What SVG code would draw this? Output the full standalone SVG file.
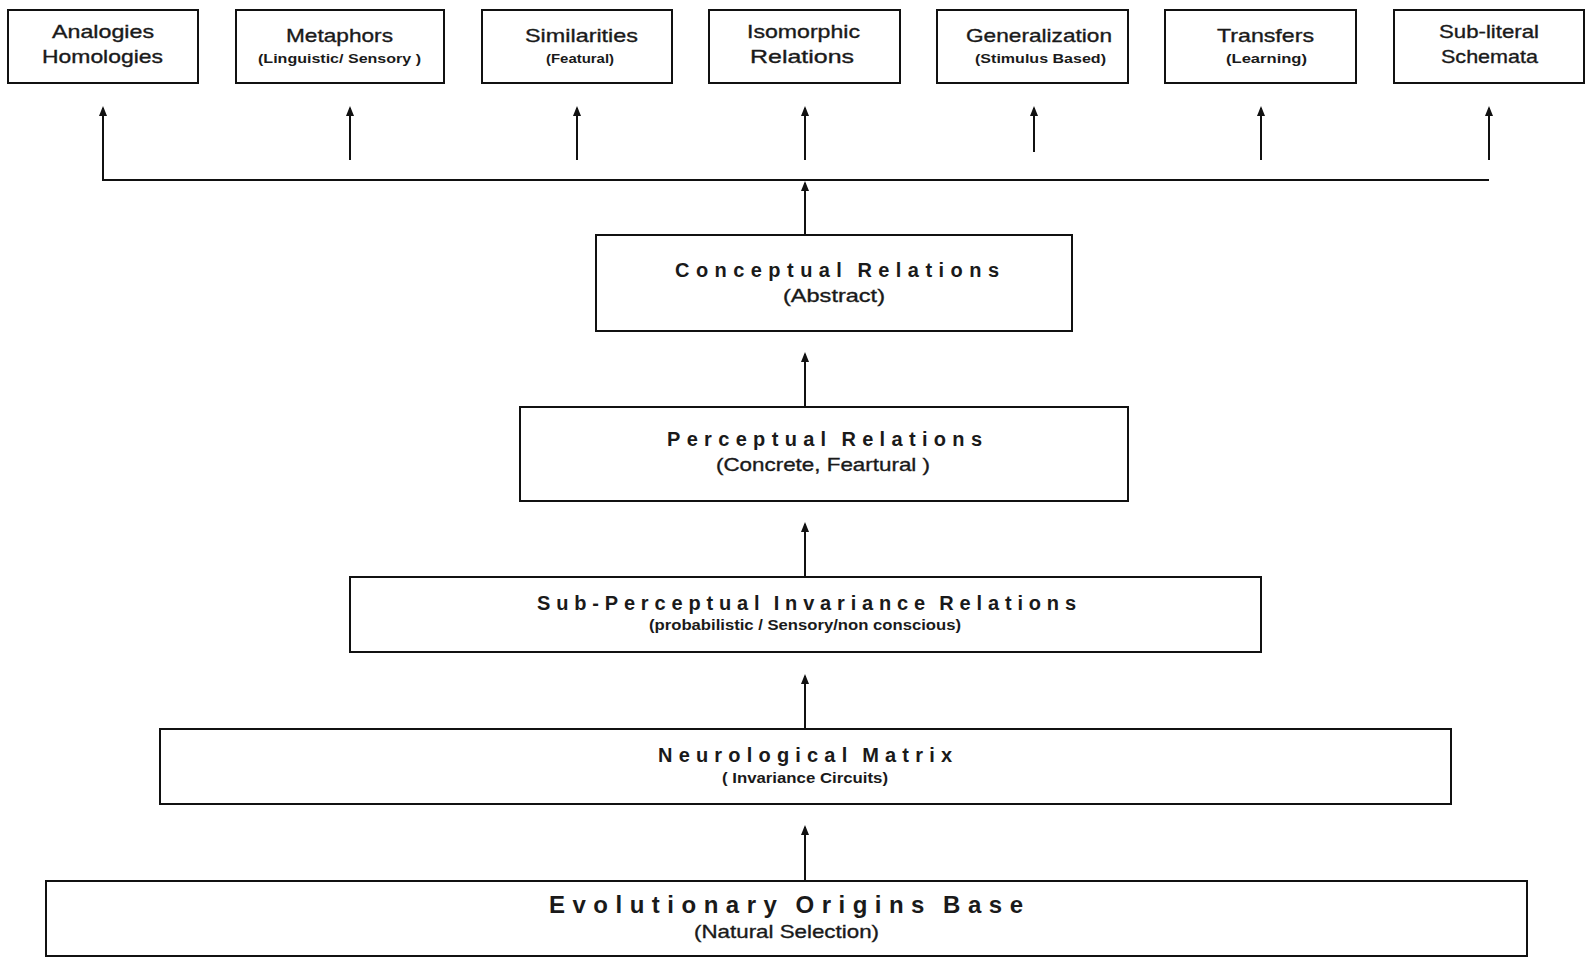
<svg xmlns="http://www.w3.org/2000/svg" width="1586" height="958" viewBox="0 0 1586 958">
<style>
.box{fill:#fff;stroke:#111;stroke-width:2}
.t{font-family:"Liberation Sans",Arial,sans-serif;fill:#1a1a1a;stroke:#1a1a1a;stroke-width:0.35}
.b{font-weight:bold;stroke-width:0}
.lbl{font-size:19px}
.sub{font-size:13px}
.ttl{font-size:20px;word-spacing:-3px}
.st{font-size:19px}
.ss{font-size:15px}
.big{font-size:24px;word-spacing:-3px}
.c{fill:none;stroke:#111;stroke-width:2}
</style>
<defs>
<marker id="ah" markerUnits="userSpaceOnUse" markerWidth="10" markerHeight="8" viewBox="0 0 10 8" refX="8" refY="4" orient="auto">
<path d="M0,0 L10,4 L0,8 Z" fill="#111"/>
</marker>
</defs>
<rect width="1586" height="958" fill="#fff"/>
<g id="connectors">
<path class="c" d="M1489,180 H103 V108" marker-end="url(#ah)"/>
<line class="c" x1="350" y1="160" x2="350" y2="108" marker-end="url(#ah)"/>
<line class="c" x1="577" y1="160" x2="577" y2="108" marker-end="url(#ah)"/>
<line class="c" x1="805" y1="160" x2="805" y2="108" marker-end="url(#ah)"/>
<line class="c" x1="1034" y1="152" x2="1034" y2="108" marker-end="url(#ah)"/>
<line class="c" x1="1261" y1="160" x2="1261" y2="108" marker-end="url(#ah)"/>
<line class="c" x1="1489" y1="160" x2="1489" y2="108" marker-end="url(#ah)"/>
<line class="c" x1="805" y1="235" x2="805" y2="183" marker-end="url(#ah)"/>
<line class="c" x1="805" y1="407" x2="805" y2="354" marker-end="url(#ah)"/>
<line class="c" x1="805" y1="577" x2="805" y2="524" marker-end="url(#ah)"/>
<line class="c" x1="805" y1="729" x2="805" y2="676" marker-end="url(#ah)"/>
<line class="c" x1="805" y1="881" x2="805" y2="827" marker-end="url(#ah)"/>
</g>
<g id="analogies">
<rect class="box" x="8" y="10" width="190" height="73"/>
<text class="t lbl" x="52" y="38" textLength="102" lengthAdjust="spacingAndGlyphs">Analogies</text>
<text class="t lbl" x="42" y="63" textLength="121" lengthAdjust="spacingAndGlyphs">Homologies</text>
</g>
<g id="metaphors">
<rect class="box" x="236" y="10" width="208" height="73"/>
<text class="t lbl" x="286" y="42" textLength="107" lengthAdjust="spacingAndGlyphs">Metaphors</text>
<text class="t b sub" x="258" y="63" textLength="163" lengthAdjust="spacingAndGlyphs">(Linguistic/ Sensory )</text>
</g>
<g id="similarities">
<rect class="box" x="482" y="10" width="190" height="73"/>
<text class="t lbl" x="525" y="42" textLength="113" lengthAdjust="spacingAndGlyphs">Similarities</text>
<text class="t b sub" x="546" y="63" textLength="68" lengthAdjust="spacingAndGlyphs">(Featural)</text>
</g>
<g id="isomorphic">
<rect class="box" x="709" y="10" width="191" height="73"/>
<text class="t lbl" x="747" y="38" textLength="113" lengthAdjust="spacingAndGlyphs">Isomorphic</text>
<text class="t lbl" x="750" y="63" textLength="104" lengthAdjust="spacingAndGlyphs">Relations</text>
</g>
<g id="generalization">
<rect class="box" x="937" y="10" width="191" height="73"/>
<text class="t lbl" x="966" y="42" textLength="146" lengthAdjust="spacingAndGlyphs">Generalization</text>
<text class="t b sub" x="975" y="63" textLength="131" lengthAdjust="spacingAndGlyphs">(Stimulus Based)</text>
</g>
<g id="transfers">
<rect class="box" x="1165" y="10" width="191" height="73"/>
<text class="t lbl" x="1217" y="42" textLength="97" lengthAdjust="spacingAndGlyphs">Transfers</text>
<text class="t b sub" x="1226" y="63" textLength="81" lengthAdjust="spacingAndGlyphs">(Learning)</text>
</g>
<g id="subliteral">
<rect class="box" x="1394" y="10" width="190" height="73"/>
<text class="t lbl" x="1439" y="38" textLength="100" lengthAdjust="spacingAndGlyphs">Sub-literal</text>
<text class="t lbl" x="1441" y="63" textLength="97" lengthAdjust="spacingAndGlyphs">Schemata</text>
</g>
<g id="conceptual">
<rect class="box" x="596" y="235" width="476" height="96"/>
<text class="t b ttl" x="675" y="277" textLength="324" lengthAdjust="spacing">Conceptual Relations</text>
<text class="t st" x="783" y="302" textLength="102" lengthAdjust="spacingAndGlyphs">(Abstract)</text>
</g>
<g id="perceptual">
<rect class="box" x="520" y="407" width="608" height="94"/>
<text class="t b ttl" x="667" y="446" textLength="315" lengthAdjust="spacing">Perceptual Relations</text>
<text class="t st" x="716" y="471" textLength="214" lengthAdjust="spacingAndGlyphs">(Concrete, Feartural )</text>
</g>
<g id="subperceptual">
<rect class="box" x="350" y="577" width="911" height="75"/>
<text class="t b ttl" x="537" y="610" textLength="539" lengthAdjust="spacing">Sub-Perceptual Invariance Relations</text>
<text class="t b ss" x="649" y="630" textLength="312" lengthAdjust="spacingAndGlyphs">(probabilistic / Sensory/non conscious)</text>
</g>
<g id="neurological">
<rect class="box" x="160" y="729" width="1291" height="75"/>
<text class="t b ttl" x="658" y="762" textLength="294" lengthAdjust="spacing">Neurological Matrix</text>
<text class="t b ss" x="722" y="783" textLength="166" lengthAdjust="spacingAndGlyphs">( Invariance Circuits)</text>
</g>
<g id="evolutionary">
<rect class="box" x="46" y="881" width="1481" height="75"/>
<text class="t b big" x="549" y="913" textLength="474" lengthAdjust="spacing">Evolutionary Origins Base</text>
<text class="t st" x="694" y="938" textLength="185" lengthAdjust="spacingAndGlyphs">(Natural Selection)</text>
</g>
</svg>
